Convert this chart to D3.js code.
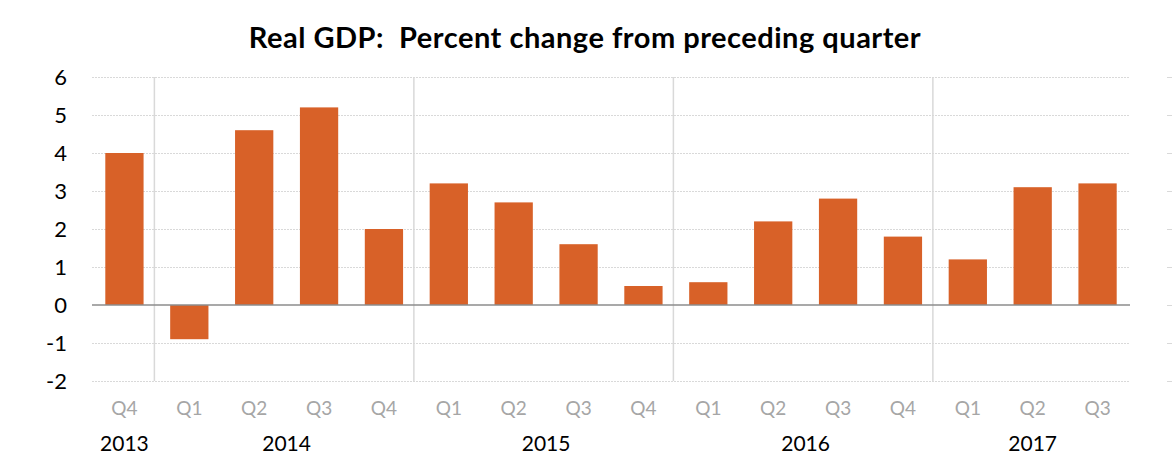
<!DOCTYPE html>
<html>
<head>
<meta charset="utf-8">
<script src="https://cdn.jsdelivr.net/npm/d3@7"></script>
<style>
  body { margin: 0; background: #fff; }
  text { font-family: Lato, "Noto Sans", sans-serif; }
</style>
</head>
<body>
<script>
var width = 1172, height = 470;

// data
var quarters = ['Q4', 'Q1', 'Q2', 'Q3', 'Q4', 'Q1', 'Q2', 'Q3', 'Q4', 'Q1', 'Q2', 'Q3', 'Q4', 'Q1', 'Q2', 'Q3'];
var years = ['2013', '2014', '2014', '2014', '2014', '2015', '2015', '2015', '2015', '2016', '2016', '2016', '2016', '2017', '2017', '2017'];
var growth = [4.0, -0.9, 4.6, 5.2, 2.0, 3.2, 2.7, 1.6, 0.5, 0.6, 2.2, 2.8, 1.8, 1.2, 3.1, 3.2];
var yTicks = [-2, -1, 0, 1, 2, 3, 4, 5, 6];

var keys = growth.map(function (d, i) { return i; });

var svg = d3.select('body')
    .append('svg')
    .attr('width', width)
    .attr('height', height);

var x = d3.scaleBand()
    .domain(keys)
    .range([92, 1130])
    .paddingInner(0.41)
    .paddingOuter(0.205);

var y = d3.scaleLinear()
    .domain([-2, 6])
    .range([381, 77]);

// title
svg.append('text')
    .attr('x', 585)
    .attr('y', 48)
    .attr('text-anchor', 'middle')
    .style('font-size', '29px')
    .style('font-weight', 'bold')
    .style('letter-spacing', '0.5px')
    .style('white-space', 'pre')
    .attr('fill', '#000')
    .text('Real GDP:  Percent change from preceding quarter');

// gridlines
svg.append('g')
    .selectAll('line')
    .data(yTicks.filter(function (d) { return d !== 0; }))
    .enter()
    .append('line')
    .attr('x1', 92)
    .attr('x2', 1130)
    .attr('y1', function (d) { return y(d) + 0.5; })
    .attr('y2', function (d) { return y(d) + 0.5; })
    .attr('stroke', '#d9d9d9')
    .attr('stroke-width', 1)
    .attr('stroke-dasharray', '2,1');

// stray tick stubs at the right edge
svg.append('g')
    .selectAll('line')
    .data(yTicks)
    .enter()
    .append('line')
    .attr('x1', 1167)
    .attr('x2', 1172)
    .attr('y1', function (d) { return y(d) + 0.5; })
    .attr('y2', function (d) { return y(d) + 0.5; })
    .attr('stroke', '#d9d9d9')
    .attr('stroke-width', 1);

// year separators
var step = x.step();
var bounds = keys.filter(function (i) { return i > 0 && years[i] !== years[i - 1]; });
svg.append('g')
    .selectAll('line')
    .data(bounds)
    .enter()
    .append('line')
    .attr('x1', function (i) { return x(i) - x.paddingInner() * step / 2 - 2.5; })
    .attr('x2', function (i) { return x(i) - x.paddingInner() * step / 2 - 2.5; })
    .attr('y1', y(6))
    .attr('y2', y(-2))
    .attr('stroke', '#d9d9d9')
    .attr('stroke-width', 1.5);

// bars
svg.append('g')
    .selectAll('rect')
    .data(growth)
    .enter()
    .append('rect')
    .attr('x', function (d, i) { return x(i); })
    .attr('width', x.bandwidth())
    .attr('y', function (d) { return y(Math.max(0, d)); })
    .attr('height', function (d) { return Math.abs(y(d) - y(0)); })
    .attr('fill', '#d86128');

// zero line
svg.append('line')
    .attr('x1', 92)
    .attr('x2', 1130)
    .attr('y1', y(0))
    .attr('y2', y(0))
    .attr('stroke', '#8c8c8c')
    .attr('stroke-width', 1.5);

// y labels
svg.append('g')
    .selectAll('text')
    .data(yTicks)
    .enter()
    .append('text')
    .attr('x', 67)
    .attr('y', function (d) { return y(d) + 8; })
    .attr('text-anchor', 'end')
    .style('font-size', '22px')
    .attr('fill', '#000')
    .text(function (d) { return d; });

// quarter labels
svg.append('g')
    .selectAll('text')
    .data(quarters)
    .enter()
    .append('text')
    .attr('x', function (d, i) { return x(i) + x.bandwidth() / 2; })
    .attr('y', 415)
    .attr('text-anchor', 'middle')
    .style('font-size', '19px')
    .attr('fill', '#a6a6a6')
    .text(function (d) { return d; });

// year labels centred under their quarters
var yearGroups = d3.groups(keys, function (i) { return years[i]; });
svg.append('g')
    .selectAll('text')
    .data(yearGroups)
    .enter()
    .append('text')
    .attr('x', function (g) {
        var idx = g[1];
        return (x(idx[0]) + x(idx[idx.length - 1]) + x.bandwidth()) / 2;
    })
    .attr('y', 451)
    .attr('text-anchor', 'middle')
    .style('font-size', '21px')
    .attr('fill', '#000')
    .text(function (g) { return g[0]; });
</script>
</body>
</html>
